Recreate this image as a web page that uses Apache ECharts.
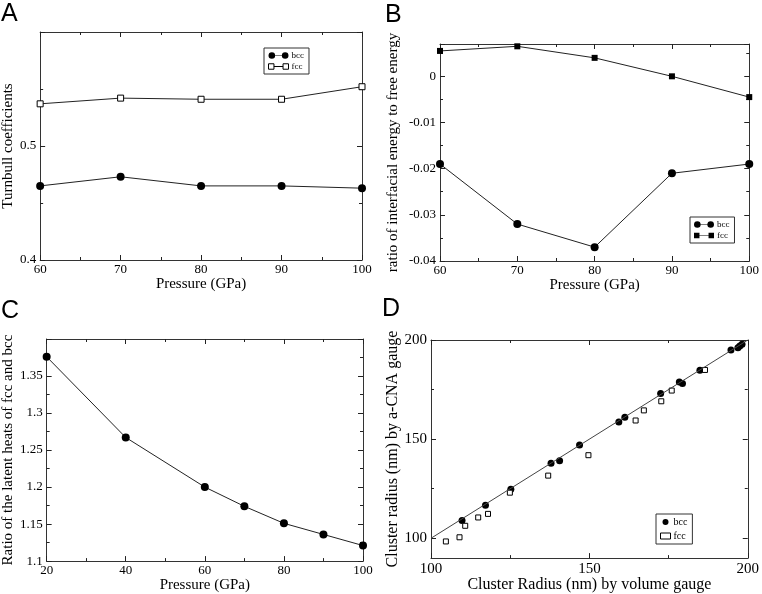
<!DOCTYPE html>
<html><head><meta charset="utf-8">
<script src="https://cdn.jsdelivr.net/npm/echarts@6/dist/echarts.min.js"></script>
<style>html,body{margin:0;padding:0;background:#fff}#c{width:762px;height:594px}</style>
</head><body><div id="c"></div>
<script>
// ---- data ----
const pressureAB = [60, 70, 80, 90, 100];
const turnbullBcc = [0.465, 0.473, 0.465, 0.465, 0.463];
const turnbullFcc = [0.537, 0.542, 0.541, 0.541, 0.552];
const ratioBcc = [-0.019, -0.032, -0.037, -0.021, -0.019];
const ratioFcc = [0.0055, 0.0065, 0.004, 0.0, -0.0045];
const pressureC = [20, 40, 60, 70, 80, 90, 100];
const latentRatio = [1.376, 1.267, 1.200, 1.174, 1.151, 1.136, 1.121];
const clusterBccVol = [109.8, 117.2, 125.2, 137.9, 140.6, 146.9, 159.3, 161.2, 172.5, 178.4, 179.4, 184.9, 194.7, 196.9, 197.5, 198.2];
const clusterBccCna = [109.0, 116.6, 124.7, 137.8, 139.1, 147.0, 158.6, 161.0, 173.0, 178.8, 178.1, 184.7, 194.9, 196.1, 197.0, 197.9];
const clusterFccVol = [104.7, 109.0, 110.8, 114.9, 118.0, 124.9, 137.0, 149.7, 164.6, 167.2, 172.7, 176.0, 186.5];
const clusterFccCna = [98.4, 100.5, 106.3, 110.5, 112.3, 123.0, 131.6, 141.9, 159.4, 164.5, 169.1, 174.5, 184.9];
const diagonalX = [100, 200];
const diagonalY = [100, 200];
const dMajorTicks = [100, 150, 200];
const dMinorTicks = [125, 175];

const zip = (a, b) => a.map((v, i) => [v, b[i]]);

const SERIF = 'Liberation Serif';
const SANS = 'Liberation Sans';
const FRAME = '#333';
const TICK = '#222';
const LINE = '#222';

function baseAxis(grid, min, max, interval, minorSplit) {
  const ax = {
    gridIndex: grid, type: 'value', min: min, max: max,
    axisLine: { show: true, onZero: false, lineStyle: { color: FRAME, width: 1 } },
    axisTick: { show: true, inside: true, length: 5, lineStyle: { color: TICK, width: 1 } },
    minorTick: { show: minorSplit > 0, splitNumber: minorSplit || 2, length: 3, lineStyle: { color: TICK, width: 1 } },
    splitLine: { show: false }, minorSplitLine: { show: false },
    axisLabel: { show: false }
  };
  if (interval != null) ax.interval = interval;
  return ax;
}
function labelled(ax, fontSize, margin, extra) {
  ax.axisLabel = Object.assign({ show: true, fontFamily: SERIF, fontSize: fontSize, color: '#000', margin: margin }, extra || {});
  return ax;
}
function named(ax, name, fontSize, gap) {
  ax.name = name; ax.nameLocation = 'middle'; ax.nameGap = gap;
  ax.nameTextStyle = { fontFamily: SERIF, fontSize: fontSize, color: '#000' };
  return ax;
}

const xAxes = [];
const yAxes = [];
xAxes.push(named(labelled(Object.assign(baseAxis(0, 60, 100, 10, 2), { position: 'bottom' }), 13, 3), 'Pressure (GPa)', 15, 13));
xAxes.push(Object.assign(baseAxis(0, 60, 100, 10, 2), { position: 'top' }));
yAxes.push(named(labelled(Object.assign(baseAxis(0, 0.4, 0.6, 0.1, 2), { position: 'left' }), 13, 4, { showMaxLabel: false }), 'Turnbull coefficients', 15, 21));
yAxes.push(Object.assign(baseAxis(0, 0.4, 0.6, 0.1, 2), { position: 'right' }));
xAxes.push(named(labelled(Object.assign(baseAxis(1, 60, 100, 10, 2), { position: 'bottom' }), 13, 3), 'Pressure (GPa)', 15, 13));
xAxes.push(Object.assign(baseAxis(1, 60, 100, 10, 2), { position: 'top' }));
yAxes.push(named(labelled(Object.assign(baseAxis(1, -0.04, 0.007, 0.01, 2), { position: 'left' }), 13, 4, { showMaxLabel: false }), 'ratio of interfacial energy to free energy', 15, 39));
yAxes.push(Object.assign(baseAxis(1, -0.04, 0.007, 0.01, 2), { position: 'right' }));
xAxes.push(named(labelled(Object.assign(baseAxis(2, 20, 100, 20, 2), { position: 'bottom' }), 13, 3), 'Pressure (GPa)', 15, 13));
xAxes.push(Object.assign(baseAxis(2, 20, 100, 20, 2), { position: 'top' }));
yAxes.push(named(labelled(Object.assign(baseAxis(2, 1.1, 1.4, 0.05, 2), { position: 'left' }), 13, 4, { showMaxLabel: false }), 'Ratio of the latent heats of fcc and bcc', 15, 26));
yAxes.push(Object.assign(baseAxis(2, 1.1, 1.4, 0.05, 2), { position: 'right' }));
xAxes.push(named(labelled(Object.assign(baseAxis(3, 100, 200, 50, 2), { position: 'bottom' }), 15, 3), 'Cluster Radius (nm) by volume gauge', 16, 15));
xAxes.push(Object.assign(baseAxis(3, 100, 200, 50, 2), { position: 'top' }));
function dY(pos, ticks, len, withLine) {
  const ax = baseAxis(3, 90, 200, null, 0);
  ax.position = pos;
  ax.axisLine.show = withLine;
  ax.axisTick.customValues = ticks;
  ax.axisTick.length = len;
  return ax;
}
const dLeft = dY('left', dMajorTicks, 5, true);
labelled(dLeft, 15, 4, { customValues: dMajorTicks });
named(dLeft, 'Cluster radius (nm) by a-CNA gauge', 16, 30);
yAxes.push(dLeft);
yAxes.push(dY('right', dMajorTicks, 5, true));
yAxes.push(dY('left', dMinorTicks, 3, false));
yAxes.push(dY('right', dMinorTicks, 3, false));

const circleLine = 'path://M0,4a4,4 0 1,0 8,0a4,4 0 1,0 -8,0ZM8,3.6h8v0.8h-8ZM16,4a4,4 0 1,0 8,0a4,4 0 1,0 -8,0Z';
const squareLine = 'path://M1,1h6v6h-6ZM7,4h10M17,1h6v6h-6Z';
const squareLineFilled = 'path://M1,1h6v6h-6ZM7,3.6h10v0.8h-10ZM17,1h6v6h-6Z';

function legendBox(left, top, items, iw, ih, gap, fs) {
  return {
    left: left, top: top, orient: 'vertical', selectedMode: false,
    padding: [3, 5, 3, 4], itemGap: gap, itemWidth: iw, itemHeight: ih,
    borderColor: '#333', borderWidth: 1, borderRadius: 0, backgroundColor: '#fff',
    textStyle: { fontFamily: SERIF, fontSize: fs, color: '#000', padding: [0, 0, 0, -2] },
    data: items
  };
}

const option = {
  animation: false,
  backgroundColor: '#fff',
  title: [
    { text: 'A', left: 1, top: 2, padding: 0, textStyle: { fontFamily: SANS, fontSize: 25, fontWeight: 'normal', color: '#000' } },
    { text: 'B', left: 385, top: 3, padding: 0, textStyle: { fontFamily: SANS, fontSize: 25, fontWeight: 'normal', color: '#000' } },
    { text: 'C', left: 1, top: 299, padding: 0, textStyle: { fontFamily: SANS, fontSize: 25, fontWeight: 'normal', color: '#000' } },
    { text: 'D', left: 382, top: 297, padding: 0, textStyle: { fontFamily: SANS, fontSize: 25, fontWeight: 'normal', color: '#000' } }
  ],
  grid: [
    { left: 37, top: 32, width: 325, height: 228 },
    { left: 440, top: 44, width: 312, height: 217 },
    { left: 42, top: 339, width: 321, height: 224 },
    { left: 431, top: 340, width: 322, height: 223 }
  ],
  legend: [
    legendBox(264, 48, [
      { name: 'bcc', icon: circleLine, itemStyle: { color: '#000', borderWidth: 0 } },
      { name: 'fcc', icon: squareLine, itemStyle: { color: '#fff', borderColor: '#000', borderWidth: 1 } }
    ], 20, 7, 2, 9),
    legendBox(690, 217, [
      { name: 'bcc', icon: circleLine, itemStyle: { color: '#000', borderWidth: 0 } },
      { name: 'fcc', icon: squareLineFilled, itemStyle: { color: '#000', borderColor: '#000', borderWidth: 0 } }
    ], 20, 7, 2, 9),
    legendBox(656, 514, [
      { name: 'bcc', icon: 'circle', itemStyle: { color: '#000', borderWidth: 0 } },
      { name: 'fcc', icon: 'rect', itemStyle: { color: '#fff', borderColor: '#000', borderWidth: 1 } }
    ], 10, 6, 4, 10)
  ],
  xAxis: xAxes,
  yAxis: yAxes,
  series: [
    { name: 'bcc', type: 'line', xAxisIndex: 0, yAxisIndex: 0, data: zip(pressureAB, turnbullBcc),
      symbol: 'circle', symbolSize: 8, lineStyle: { color: LINE, width: 1 }, itemStyle: { color: '#000' } },
    { name: 'fcc', type: 'line', xAxisIndex: 0, yAxisIndex: 0, data: zip(pressureAB, turnbullFcc),
      symbol: 'rect', symbolSize: 6, lineStyle: { color: LINE, width: 1 }, itemStyle: { color: '#fff', borderColor: '#000', borderWidth: 1 } },
    { name: 'bcc', type: 'line', xAxisIndex: 2, yAxisIndex: 2, data: zip(pressureAB, ratioBcc),
      symbol: 'circle', symbolSize: 8, lineStyle: { color: LINE, width: 1 }, itemStyle: { color: '#000' } },
    { name: 'fcc', type: 'line', xAxisIndex: 2, yAxisIndex: 2, data: zip(pressureAB, ratioFcc),
      symbol: 'rect', symbolSize: 6, lineStyle: { color: LINE, width: 1 }, itemStyle: { color: '#000' } },
    { name: 'latent', type: 'line', xAxisIndex: 4, yAxisIndex: 4, data: zip(pressureC, latentRatio),
      symbol: 'circle', symbolSize: 8, lineStyle: { color: LINE, width: 1 }, itemStyle: { color: '#000' } },
    { name: 'diag', type: 'line', xAxisIndex: 6, yAxisIndex: 6, data: zip(diagonalX, diagonalY),
      symbol: 'none', lineStyle: { color: '#444', width: 1 } },
    { name: 'bcc', type: 'scatter', xAxisIndex: 6, yAxisIndex: 6, data: zip(clusterBccVol, clusterBccCna),
      symbol: 'circle', symbolSize: 7, itemStyle: { color: '#000', opacity: 1 } },
    { name: 'fcc', type: 'scatter', xAxisIndex: 6, yAxisIndex: 6, data: zip(clusterFccVol, clusterFccCna),
      symbol: 'rect', symbolSize: 5, itemStyle: { color: '#fff', borderColor: '#000', borderWidth: 1, opacity: 1 } }
  ]
};
echarts.init(document.getElementById('c'), null, { renderer: 'canvas' }).setOption(option);
</script>
</body></html>
